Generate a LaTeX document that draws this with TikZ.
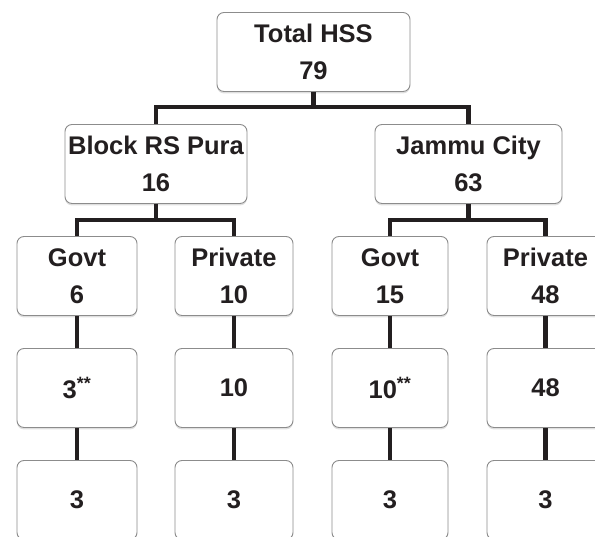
\documentclass[tikz,border=0pt]{standalone}
\usepackage{fontspec}
\setmainfont{Liberation Sans}
\usepackage{tikz}
\usetikzlibrary{shadows}
\definecolor{boxline}{HTML}{8C8C8C}
\definecolor{ink}{HTML}{231F20}
\tikzset{link/.style={line width=4.5pt, draw=ink}}
\tikzset{sub/.style={minimum width=#1}}

\begin{document}
\begin{tikzpicture}[x=1pt, y=1pt]
	% Default action for each node
	\tikzstyle{every node}=[draw=boxline, line width=0.9pt, fill=white, rounded corners=7pt, minimum height=79pt, inner sep=0pt, align=center, text=ink, font=\fontsize{25.5}{37}\selectfont\bfseries, drop shadow={shadow xshift=0pt, shadow yshift=-2pt, opacity=0.25}];

	\useasboundingbox (0,0) rectangle (595,537);
	\clip (0,0) rectangle (595,537);

																\node[sub=193] (total) at (313.5,485) {Total HSS\\79};
						\node[sub=182] (rspura) at (156,373) {Block RS Pura\\16};			\node[sub=187] (jammu) at (468.5,373) {Jammu City\\63};
	\node[sub=120] (govtA) at (77,261) {Govt\\6};	\node[sub=118] (privA) at (234,261) {Private\\10};	\node[sub=116] (govtB) at (390,261) {Govt\\15};	\node[sub=117] (privB) at (545.5,261) {Private\\48};
	\node[sub=120] (govtAmid) at (77,149) {3\textsuperscript{**}};	\node[sub=118] (privAmid) at (234,149) {10};	\node[sub=116] (govtBmid) at (390,149) {10\textsuperscript{**}};	\node[sub=117] (privBmid) at (545.5,149) {48};
	\node[sub=120] (govtAlow) at (77,37) {3};	\node[sub=118] (privAlow) at (234,37) {3};	\node[sub=116] (govtBlow) at (390,37) {3};	\node[sub=117] (privBlow) at (545.5,37) {3};

	% Branches
	\draw[link] (total.south) -- ++(0,-15) -| (rspura.north);
	\draw[link] (total.south) -- ++(0,-15) -| (jammu.north);

	\draw[link] (rspura.south) -- ++(0,-16) -| (govtA.north);
	\draw[link] (rspura.south) -- ++(0,-16) -| (privA.north);

	\draw[link] (jammu.south) -- ++(0,-16) -| (govtB.north);
	\draw[link] (jammu.south) -- ++(0,-16) -| (privB.north);

	% Verticals
	\draw[link] (govtA) -- (govtAmid);
	\draw[link] (govtAmid) -- (govtAlow);

	\draw[link] (privA) -- (privAmid);
	\draw[link] (privAmid) -- (privAlow);

	\draw[link] (govtB) -- (govtBmid);
	\draw[link] (govtBmid) -- (govtBlow);

	\draw[link] (privB) -- (privBmid);
	\draw[link] (privBmid) -- (privBlow);
\end{tikzpicture}
\end{document}
